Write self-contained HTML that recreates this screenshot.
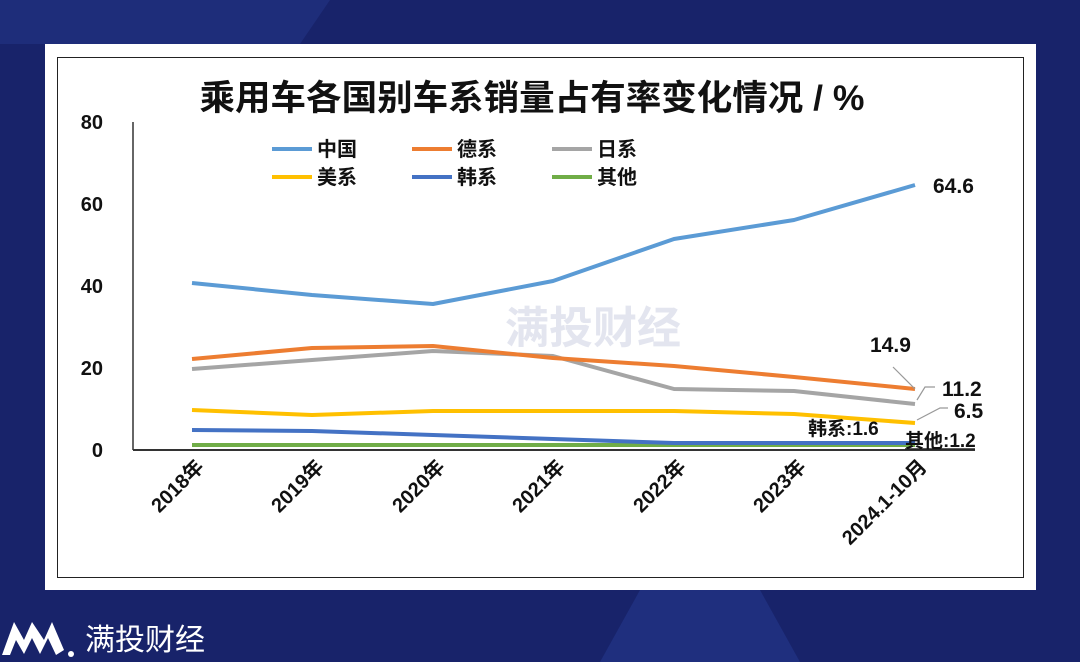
<!DOCTYPE html>
<html><head><meta charset="utf-8"><style>
body{margin:0;width:1080px;height:662px;overflow:hidden;background:#18236a;font-family:"Liberation Sans","Noto Sans CJK SC",sans-serif;}
</style></head><body>
<svg width="1080" height="662" viewBox="0 0 1080 662" style="position:absolute;left:0;top:0">
<rect width="1080" height="662" fill="#18236a"/>
<polygon points="0,0 330,0 300,44 0,44" fill="#1e2d7a"/>
<polygon points="640,590 760,590 800,662 600,662" fill="#1f2f7e"/>
<rect x="45" y="44" width="991" height="546" fill="#fff"/>
<rect x="57.5" y="57.5" width="966" height="520" fill="#fff" stroke="#222" stroke-width="1"/>
<text x="532" y="110" text-anchor="middle" font-size="35" font-weight="bold" fill="#111" textLength="665" lengthAdjust="spacingAndGlyphs">乘用车各国别车系销量占有率变化情况 / %</text>
<g font-size="20" font-weight="bold" fill="#111" text-anchor="end">
<text x="103" y="129">80</text><text x="103" y="211">60</text><text x="103" y="293">40</text><text x="103" y="375">20</text><text x="103" y="457">0</text>
</g>
<line x1="133" y1="122" x2="133" y2="450" stroke="#333" stroke-width="1.5"/>
<line x1="133" y1="450" x2="975" y2="450" stroke="#333" stroke-width="2"/>
<g font-size="20" font-weight="bold" fill="#111">
<line x1="272" y1="149" x2="312" y2="149" stroke="#5b9bd5" stroke-width="4"/><text x="317" y="156">中国</text>
<line x1="412" y1="149" x2="452" y2="149" stroke="#ed7d31" stroke-width="4"/><text x="457" y="156">德系</text>
<line x1="552" y1="149" x2="592" y2="149" stroke="#a5a5a5" stroke-width="4"/><text x="597" y="156">日系</text>
<line x1="272" y1="177" x2="312" y2="177" stroke="#ffc000" stroke-width="4"/><text x="317" y="184">美系</text>
<line x1="412" y1="177" x2="452" y2="177" stroke="#4472c4" stroke-width="4"/><text x="457" y="184">韩系</text>
<line x1="552" y1="177" x2="592" y2="177" stroke="#70ad47" stroke-width="4"/><text x="597" y="184">其他</text>
</g>
<g fill="none" stroke-width="4" stroke-linejoin="round">
<polyline stroke="#70ad47" points="192,445 312,445 433,445 553,445 674,445 794,445 915,445"/>
<polyline stroke="#4472c4" points="192,430 312,431 433,435 553,439 674,443 794,443 915,443"/>
<polyline stroke="#ffc000" points="192,410 312,415 433,411 553,411 674,411 794,414 915,423"/>
<polyline stroke="#a5a5a5" points="192,369 312,360 433,351 553,356 674,389 794,391 915,404"/>
<polyline stroke="#ed7d31" points="192,359 312,348 433,346 553,358 674,366 794,377 915,389"/>
<polyline stroke="#5b9bd5" points="192,283 312,295 433,304 553,281 674,239 794,220 915,185"/>
</g>
<g stroke="#999" stroke-width="1.2" fill="none">
<polyline points="893,367 915,389"/><polyline points="917,400 925,387 935,387"/><polyline points="917,420 940,408 948,408"/>
</g>
<line x1="905" y1="449" x2="975" y2="449" stroke="#222" stroke-width="1.5"/>
<g font-size="21" font-weight="bold" fill="#111">
<text x="933" y="193">64.6</text>
<text x="870" y="352">14.9</text>
<text x="942" y="396">11.2</text>
<text x="954" y="418">6.5</text>
<text x="808" y="435" font-size="19">韩系:1.6</text>
<text x="905" y="447" font-size="19">其他:1.2</text>
</g>
<g font-size="20" font-weight="bold" fill="#111" text-anchor="end">
<text transform="translate(205,468) rotate(-45)">2018年</text>
<text transform="translate(325,468) rotate(-45)">2019年</text>
<text transform="translate(446,468) rotate(-45)">2020年</text>
<text transform="translate(566,468) rotate(-45)">2021年</text>
<text transform="translate(687,468) rotate(-45)">2022年</text>
<text transform="translate(807,468) rotate(-45)">2023年</text>
<text transform="translate(928,468) rotate(-45)">2024.1-10月</text>
</g>
<text x="505" y="343" font-size="44" font-weight="bold" fill="#c8cde0" opacity="0.5">满投财经</text>
<polygon points="2,655 14,622 24,640 32,622 44,640 52,622 64,650 56,655 48,638 40,654 32,638 24,654 16,640 10,655" fill="#fff"/>
<circle cx="71" cy="654" r="3" fill="#fff"/>
<text x="85" y="650" font-size="30" fill="#fff">满投财经</text>
</svg>
</body></html>
